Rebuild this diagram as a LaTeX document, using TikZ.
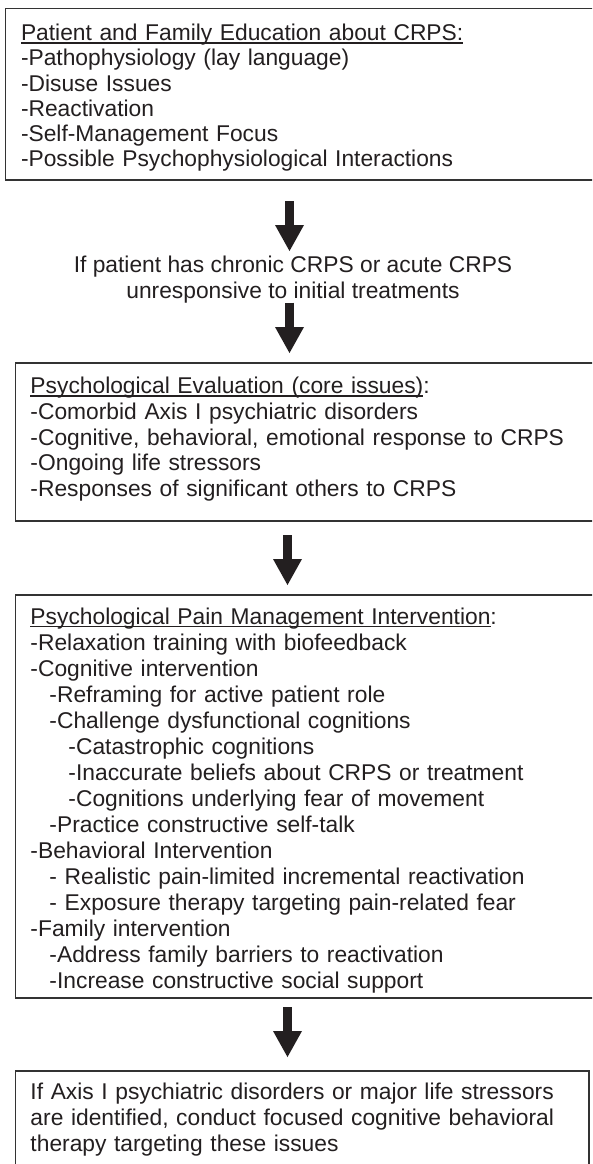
\documentclass[tikz,border=0pt]{standalone}
\usepackage{fontspec}
\setmainfont{Liberation Sans}
\usetikzlibrary{arrows.meta}
\definecolor{ink}{HTML}{231F20}
\definecolor{edge}{HTML}{333333}
\newcommand\myul[1]{\setbox0\hbox{#1}\rlap{\rule[-3.2pt]{\wd0}{1.3pt}}#1}
\newcommand\fl{\rule{0pt}{18pt}}
\begin{document}
\begin{tikzpicture}[x=1pt,y=1pt,
  box/.style={draw=edge, line width=1.2pt, anchor=north west, inner sep=0pt, outer sep=0pt},
  txt/.style={anchor=north west, inner sep=0pt, outer sep=0pt, align=left, text width=565pt, text=ink},
  bigarrow/.style={draw=ink, line width=9pt, -{Triangle[width=29pt,length=26pt,line width=0pt]}}
]
\clip (0,0) rectangle (592,-1164);
\fill[white] (0,0) rectangle (592,-1164);
% guide coordinates for arrow axes
\coordinate (ax1) at (289.5,0);
\coordinate (ax2) at (287.5,0);
% boxes
\node[box, minimum width=600pt, minimum height=171.7pt] (box1) at (5.7,-8.3) {};
\node[box, minimum width=600pt, minimum height=158pt] (box2) at (15.5,-363) {};
\node[box, minimum width=600pt, minimum height=403pt] (box3) at (15.5,-595) {};
\node[box, minimum width=573.5pt, minimum height=130pt] (box4) at (15.5,-1071) {};
% texts
\node[txt, font=\fontsize{22.8}{25.3}\selectfont] (t1) at (21,-22.5) {\fl\myul{Patient and Family Education about CRPS:}\\
-Pathophysiology (lay language)\\
-Disuse Issues\\
-Reactivation\\
-Self-Management Focus\\
-Possible Psychophysiological Interactions};
\node[anchor=north, inner sep=0pt, outer sep=0pt, align=center, text=ink, font=\fontsize{22.8}{25.5}\selectfont] (cond) at (293,-254.5) {\fl If patient has chronic CRPS or acute CRPS\\unresponsive to initial treatments};
\node[txt, font=\fontsize{22.8}{25.75}\selectfont] (t2) at (30.5,-375.5) {\fl\myul{Psychological Evaluation (core issues)}:\\
-Comorbid Axis I psychiatric disorders\\
-Cognitive, behavioral, emotional response to CRPS\\
-Ongoing life stressors\\
-Responses of significant others to CRPS};
\node[txt, font=\fontsize{22.8}{26.05}\selectfont] (t3) at (30.5,-606) {\fl\myul{Psychological Pain Management Intervention}:\\
-Relaxation training with biofeedback\\
-Cognitive intervention\\
\hspace*{19pt}-Reframing for active patient role\\
\hspace*{19pt}-Challenge dysfunctional cognitions\\
\hspace*{38pt}-Catastrophic cognitions\\
\hspace*{38pt}-Inaccurate beliefs about CRPS or treatment\\
\hspace*{38pt}-Cognitions underlying fear of movement\\
\hspace*{19pt}-Practice constructive self-talk\\
-Behavioral Intervention\\
\hspace*{19pt}- Realistic pain-limited incremental reactivation\\
\hspace*{19pt}- Exposure therapy targeting pain-related fear\\
-Family intervention\\
\hspace*{19pt}-Address family barriers to reactivation\\
\hspace*{19pt}-Increase constructive social support};
\node[txt, font=\fontsize{22.8}{26}\selectfont] (t4) at (30.5,-1081) {\fl If Axis I psychiatric disorders or major life stressors\\
are identified, conduct focused cognitive behavioral\\
therapy targeting these issues};
% arrows
\draw[bigarrow, shorten <=21pt, shorten >=3.5pt] (box1.south -| ax1) -- (cond.north -| ax1);
\draw[bigarrow, shorten <=0pt, shorten >=10pt] (cond.south -| ax1) -- (box2.north -| ax1);
\draw[bigarrow, shorten <=14pt, shorten >=10pt] (box2.south -| ax2) -- (box3.north -| ax2);
\draw[bigarrow, shorten <=9pt, shorten >=14pt] (box3.south -| ax2) -- (box4.north -| ax2);
\end{tikzpicture}
\end{document}
